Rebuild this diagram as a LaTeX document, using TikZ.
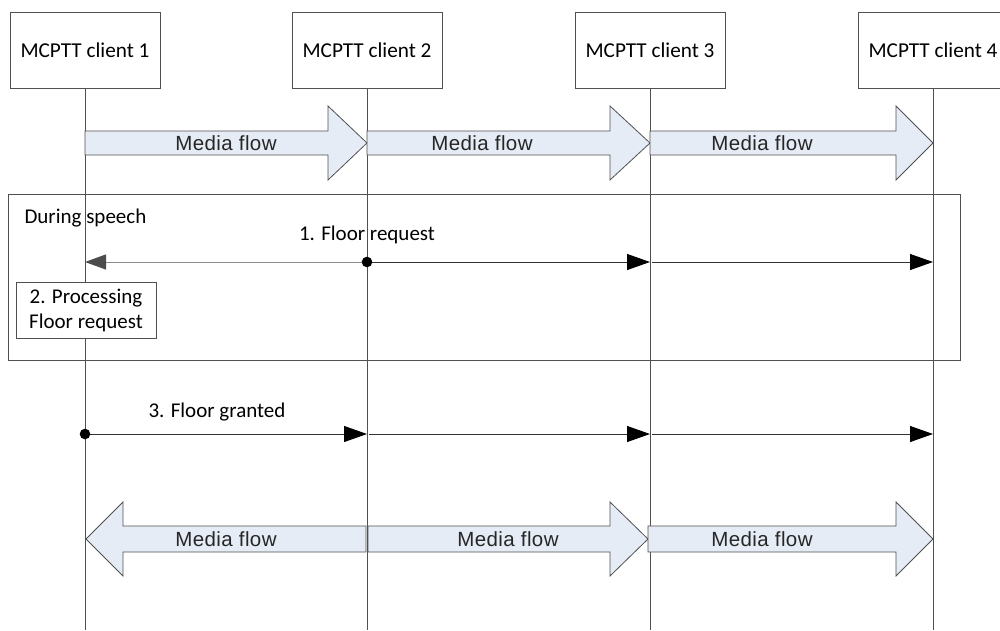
\documentclass[tikz,border=0pt]{standalone}
\usepackage{fontspec}
\setmainfont{Carlito}
\newfontfamily\flowfont[LetterSpace=2]{Liberation Sans}
\usetikzlibrary{arrows.meta,positioning}
\definecolor{flowfill}{RGB}{229,236,246}
\definecolor{linegrey}{RGB}{80,80,80}

\tikzset{
  client/.style={draw=linegrey, line width=0.9pt, minimum width=150pt, minimum height=76pt,
    font=\fontsize{21.2}{25}\selectfont},
  lifeline/.style={draw=linegrey, line width=0.9pt},
  msg/.style={draw=black!80, line width=1pt, -{Triangle[length=23pt,width=16pt,color=black]}},
  greymsg/.style={draw=black!45, line width=1pt, -{Triangle[length=21pt,width=15pt,color=black!70]}},
  flow/.style={draw=linegrey, line width=0.8pt, fill=flowfill},
  flowtext/.style={font=\flowfont\fontsize{20.5}{24}\selectfont, text=black!85},
  msgtext/.style={font=\fontsize{21}{25}\selectfont},
  procbox/.style={draw=linegrey, line width=0.9pt, fill=white, align=center, minimum width=140pt,
    minimum height=56pt, inner sep=1pt, font=\fontsize{21}{25}\selectfont},
}

\begin{document}
\begin{tikzpicture}[x=1pt, y=-1pt]
    \useasboundingbox (0,0) rectangle (1000,630);
    \clip (0,0) rectangle (1000,630);

    % clients and lifelines
    \node[client] (c1) at (85,50)  {MCPTT client 1};
    \node[client] (c2) at (367,50) {MCPTT client 2};
    \node[client] (c3) at (650,50) {MCPTT client 3};
    \node[client] (c4) at (933,50) {MCPTT client 4};
    \foreach \c in {c1,c2,c3,c4} {
        \draw[lifeline] (\c.south) -- (\c.south |- 0,630);
    }

    % media flow before the request
    \foreach \xa/\xb/\xt/\tx [count=\i] in {85/328/367/226, 367/610/650/482, 650/896/933/762} {
        \draw[flow] (\xa,131) -- (\xb,131) -- (\xb,106) -- (\xt,143) -- (\xb,180) -- (\xb,155) -- (\xa,155) -- cycle;
        \node[flowtext] (mfa\i) at (\tx,143) {Media flow};
    }

    % during speech
    \draw[draw=linegrey, line width=0.9pt] (8,194) rectangle (960,360);
    \node[msgtext, anchor=west] (phase) at (21,218) {During speech};
    \coordinate (req) at (0,262);
    \node[msgtext] (reqtext) at (367,235) {1. Floor request};
    \draw[greymsg] (c2 |- req) -- (c1 |- req);
    \draw[msg] (c2 |- req) -- (c3 |- req);
    \draw[msg] ([xshift=2pt]c3 |- req) -- (c4 |- req);
    \fill (c2 |- req) circle (5.3pt);
    \node[procbox] (proc) at (86,310) {2. Processing\\Floor request};

    % floor granted
    \coordinate (gnt) at (0,434);
    \node[msgtext] (gnttext) at (217,412) {3. Floor granted};
    \draw[msg] (c1 |- gnt) -- (c2 |- gnt);
    \draw[msg] ([xshift=2pt]c2 |- gnt) -- (c3 |- gnt);
    \draw[msg] ([xshift=2pt]c3 |- gnt) -- (c4 |- gnt);
    \fill (c1 |- gnt) circle (5.3pt);

    % media flow after the grant
    \foreach \xa/\xb/\xt/\tx [count=\i] in {366/123/86/226, 368/610/648/508, 648/896/933/762} {
        \draw[flow] (\xa,526) -- (\xb,526) -- (\xb,502) -- (\xt,539) -- (\xb,576) -- (\xb,552) -- (\xa,552) -- cycle;
        \node[flowtext] (mfb\i) at (\tx,539) {Media flow};
    }
\end{tikzpicture}
\end{document}
